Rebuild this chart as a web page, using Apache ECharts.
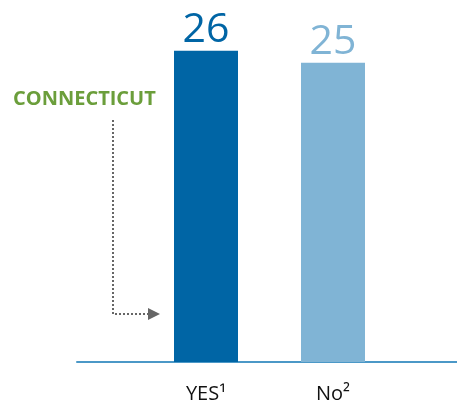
<!DOCTYPE html>
<html>
<head>
<meta charset="utf-8">
<script src="https://cdn.jsdelivr.net/npm/echarts@6/dist/echarts.min.js"></script>
<style>
  html, body { margin: 0; padding: 0; background: #fff; }
  #chart { width: 457px; height: 410px; }
</style>
</head>
<body>
<div id="chart"></div>
<script>
// Survey answers and their counts
const categories = ['YES¹', 'No²'];
const values = [26, 25];
const barColors = ['#0065a5', '#80b4d5'];
const stateLabel = 'CONNECTICUT';

const FONT = '"Open Sans", "Noto Sans", sans-serif';

const chart = echarts.init(document.getElementById('chart'), null, { renderer: 'canvas' });

chart.setOption({
  animation: false,
  backgroundColor: '#ffffff',
  grid: [
    // bars
    { left: 142.5, right: 60.5, top: 3, bottom: 48 },
    // full-width baseline
    { left: 77, right: 0, top: 3, bottom: 48 }
  ],
  xAxis: [
    {
      type: 'category',
      gridIndex: 0,
      data: categories,
      axisLine: { show: false },
      axisTick: { show: false },
      axisLabel: {
        color: '#111111',
        fontFamily: FONT,
        fontSize: 20,
        margin: 22
      }
    },
    {
      type: 'value',
      gridIndex: 1,
      min: 0,
      max: 1,
      axisLine: { show: true, lineStyle: { color: '#4b98c7', width: 2 } },
      axisTick: { show: false },
      axisLabel: { show: false },
      splitLine: { show: false }
    }
  ],
  yAxis: [
    {
      type: 'value',
      gridIndex: 0,
      min: 0,
      max: 30,
      show: false,
      splitLine: { show: false }
    },
    {
      type: 'value',
      gridIndex: 1,
      show: false,
      splitLine: { show: false }
    }
  ],
  series: [
    {
      type: 'bar',
      xAxisIndex: 0,
      yAxisIndex: 0,
      barWidth: 64,
      data: values.map((v, i) => ({
        value: v,
        itemStyle: { color: barColors[i] },
        label: { color: barColors[i] }
      })),
      label: {
        show: true,
        position: 'top',
        distance: 0,
        fontFamily: FONT,
        fontSize: 41
      }
    }
  ],
  graphic: [
    {
      type: 'text',
      left: 13,
      top: 89,
      style: {
        text: stateLabel,
        fill: '#6b9e3b',
        font: 'bold 20px ' + FONT
      }
    },
    {
      type: 'polyline',
      shape: { points: [[113, 120], [113, 314], [148, 314]] },
      style: { stroke: '#666666', lineWidth: 2, lineDash: [2, 2], fill: null }
    },
    {
      type: 'polygon',
      shape: { points: [[148, 308], [160, 314], [148, 320]] },
      style: { fill: '#666666' }
    }
  ]
});
</script>
</body>
</html>
